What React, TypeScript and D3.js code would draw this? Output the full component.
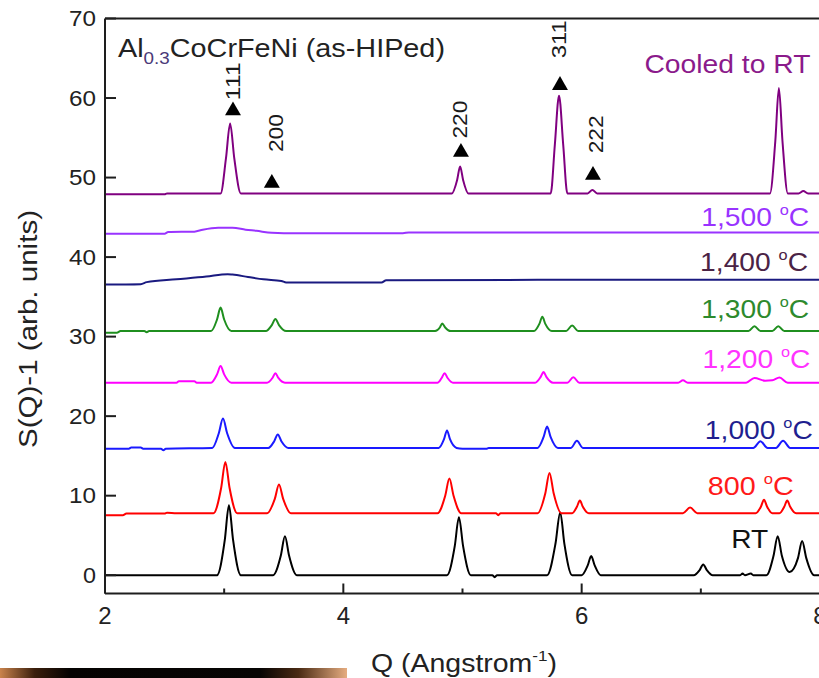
import React from "react";
import * as d3 from "d3";

type Pt = [number, number];

// ---- data (Q in 1/Angstrom, S(Q)-1 with vertical offsets as plotted) ----
const rtData: Pt[] = [
  [2.0, 0], [2.94, 0], [3.005, 4.4], [3.04, 8.8], [3.075, 4.4], [3.14, 0],
  [3.41, 0], [3.475, 2.45], [3.51, 4.9], [3.545, 2.45], [3.61, 0],
  [4.87, 0], [4.935, 3.65], [4.97, 7.3], [5.005, 3.65], [5.07, 0],
  [5.25, 0], [5.27, -0.25], [5.29, 0],
  [5.71, 0], [5.78, 3.95], [5.82, 7.9], [5.855, 3.95], [5.92, 0],
  [6.0, 0], [6.05, 1.2], [6.08, 2.4], [6.11, 1.2], [6.16, 0],
  [6.94, 0], [6.99, 0.65], [7.02, 1.35], [7.05, 0.65], [7.1, 0],
  [7.33, 0], [7.35, 0.2], [7.37, 0], [7.42, 0.2], [7.44, 0],
  [7.55, 0], [7.61, 2.45], [7.645, 4.9], [7.68, 2.45], [7.745, 0.4],
  [7.815, 2.15], [7.85, 4.3], [7.885, 2.15], [7.95, 0], [8.05, 0],
];

const t800Data: Pt[] = [
  [2.0, 7.55], [2.15, 7.55], [2.18, 7.75], [2.5, 7.75], [2.52, 7.85], [2.6, 7.8],
  [2.91, 7.8], [2.975, 11.0], [3.01, 14.25], [3.045, 11.0], [3.11, 7.8],
  [3.36, 7.8], [3.425, 9.6], [3.46, 11.4], [3.495, 9.6], [3.56, 7.8],
  [4.79, 7.8], [4.855, 10.0], [4.89, 12.15], [4.925, 10.0], [4.99, 7.8],
  [5.28, 7.8], [5.3, 7.55], [5.32, 7.8],
  [5.63, 7.8], [5.695, 10.3], [5.73, 12.86], [5.765, 10.3], [5.83, 7.8],
  [5.92, 7.8], [5.96, 8.6], [5.985, 9.4], [6.01, 8.6], [6.06, 7.8],
  [6.85, 7.8], [6.91, 8.5], [6.97, 7.8],
  [7.46, 7.8], [7.505, 8.65], [7.53, 9.5], [7.555, 8.65], [7.6, 7.8],
  [7.66, 7.8], [7.7, 8.6], [7.725, 9.4], [7.75, 8.6], [7.8, 7.8], [8.05, 7.8],
];

const t1000Data: Pt[] = [
  [2.0, 15.9], [2.2, 15.9], [2.22, 16.05], [2.3, 16.05], [2.32, 15.9], [2.47, 15.9], [2.49, 15.7], [2.51, 15.9],
  [2.9, 16.0], [2.955, 17.85], [2.99, 19.7], [3.025, 17.85], [3.09, 16.0],
  [3.37, 16.0], [3.42, 16.85], [3.45, 17.7], [3.48, 16.85], [3.54, 16.0],
  [4.8, 16.0], [4.845, 17.1], [4.87, 18.2], [4.895, 17.1], [4.95, 16.0],
  [5.0, 15.9], [5.2, 15.9], [5.22, 16.0], [5.63, 16.0], [5.68, 17.35], [5.71, 18.7], [5.74, 17.35], [5.8, 16.0],
  [5.91, 16.0], [5.96, 16.9], [6.01, 16.0],
  [7.44, 16.0], [7.5, 16.85], [7.56, 16.0],
  [7.63, 16.0], [7.69, 16.9], [7.75, 16.0], [8.05, 16.0],
];

const t1200Data: Pt[] = [
  [2.0, 24.2], [2.6, 24.2], [2.62, 24.4], [2.75, 24.4], [2.77, 24.2],
  [2.89, 24.2], [2.94, 25.25], [2.97, 26.3], [3.0, 25.25], [3.06, 24.2],
  [3.36, 24.2], [3.405, 24.8], [3.43, 25.4], [3.455, 24.8], [3.51, 24.2],
  [4.79, 24.2], [4.825, 24.8], [4.85, 25.4], [4.875, 24.8], [4.92, 24.2],
  [5.61, 24.2], [5.655, 24.9], [5.68, 25.55], [5.705, 24.9], [5.76, 24.2],
  [5.88, 24.2], [5.93, 24.9], [5.98, 24.2],
  [6.81, 24.2], [6.85, 24.5], [6.89, 24.2],
  [7.38, 24.2], [7.45, 24.8], [7.54, 24.45], [7.6, 24.5], [7.66, 24.85], [7.73, 24.2], [8.05, 24.2],
];

const t1300Data: Pt[] = [
  [2.0, 30.5], [2.1, 30.5], [2.13, 30.7], [2.33, 30.7], [2.35, 30.55], [2.37, 30.7],
  [2.89, 30.7], [2.94, 32.15], [2.97, 33.65], [3.0, 32.15], [3.06, 30.7],
  [3.35, 30.7], [3.4, 31.45], [3.43, 32.2], [3.46, 31.45], [3.52, 30.7],
  [4.77, 30.7], [4.81, 31.15], [4.83, 31.65], [4.855, 31.15], [4.9, 30.7],
  [5.6, 30.7], [5.645, 31.6], [5.67, 32.5], [5.695, 31.6], [5.75, 30.7],
  [5.87, 30.7], [5.92, 31.4], [5.97, 30.7],
  [7.4, 30.7], [7.45, 31.3], [7.5, 30.7],
  [7.6, 30.7], [7.65, 31.3], [7.7, 30.7], [8.05, 30.7],
];

const t1400Data: Pt[] = [
  [2.0, 36.55], [2.3, 36.6], [2.35, 36.85], [2.6, 37.2], [2.85, 37.55], [3.03, 37.85],
  [3.07, 37.8], [3.2, 37.5], [3.33, 37.2], [3.48, 37.0], [3.52, 36.8], [4.32, 36.8],
  [4.36, 37.1], [6.5, 37.15], [8.05, 37.15],
];

const t1500Data: Pt[] = [
  [2.0, 42.95], [2.5, 42.95], [2.53, 43.15], [2.75, 43.2], [2.82, 43.45], [2.95, 43.7],
  [3.07, 43.7], [3.18, 43.45], [3.27, 43.3], [3.4, 43.05], [3.5, 43.0], [4.5, 43.0],
  [4.55, 43.1], [8.05, 43.1],
];

const cooledData: Pt[] = [
  [2.0, 47.9], [2.5, 47.9], [2.52, 48.0],
  [2.97, 48.0], [3.015, 52.4], [3.05, 56.8], [3.085, 52.4], [3.14, 48.0],
  [4.91, 48.0], [4.955, 49.7], [4.98, 51.4], [5.005, 49.7], [5.05, 48.0],
  [5.74, 48.0], [5.775, 54.15], [5.81, 60.3], [5.845, 54.15], [5.88, 48.0],
  [6.05, 48.0], [6.09, 48.45], [6.13, 48.0],
  [7.58, 48.0], [7.625, 54.6], [7.655, 61.25], [7.685, 54.6], [7.73, 48.0],
  [7.82, 48.0], [7.86, 48.3], [7.9, 48.0], [8.05, 48.0],
];

const seriesNames = ["RT", "800", "1000", "1200", "1300", "1400", "1500", "Cooled"];
const seriesData: Pt[][] = [rtData, t800Data, t1000Data, t1200Data, t1300Data, t1400Data, t1500Data, cooledData];
const seriesColors = ["#000000", "#ff0000", "#1a1aff", "#ff00ff", "#1f8f1f", "#1a1a80", "#9933ff", "#800080"];

// right-hand labels: text, right-end Q, baseline value
const labelTexts = ["RT", "800", "1,000", "1,200", "1,300", "1,400", "1,500", "Cooled to RT"];
const labelQ = [7.565, 7.78, 7.94, 7.92, 7.91, 7.9, 7.91, 7.92];
const labelV = [3.4, 10.1, 17.1, 26.0, 32.4, 38.2, 43.9, 63.2];
const labelColors = ["#111111", "#ff1a1a", "#1f1f8f", "#ff33ff", "#2d8a2d", "#4b2345", "#9933ff", "#8b1a8b"];

// hkl reflections: label, triangle Q, triangle value, label Q, label value
const hklLabels = ["111", "200", "220", "311", "222"];
const hklQ = [3.074, 3.40, 4.987, 5.818, 6.095];
const hklV = [58.4, 49.3, 53.2, 61.6, 50.3];
const hklTextQ = [3.133, 3.494, 5.038, 5.868, 6.179];
const hklTextV = [59.7, 53.2, 54.9, 65.0, 53.05];

const xTicks = [2, 4, 6, 8];
const xMinorTicks = [3, 5, 7];
const yTicks = [0, 10, 20, 30, 40, 50, 60, 70];

export default function App() {
  const W = 819, H = 678;
  const x = d3.scaleLinear().domain([2, 8]).range([105, 820]);
  const y = d3.scaleLinear().domain([-2.3, 70]).range([593.5, 18.5]);
  const line = d3
    .line<Pt>()
    .x((d) => x(d[0]))
    .y((d) => y(d[1]))
    .curve(d3.curveMonotoneX);
  const tri = d3.symbol().type(d3.symbolTriangle).size(110)();
  const font = "'Liberation Sans', Arial, sans-serif";
  const axisColor = "#1e1e1e";

  return (
    <svg width={W} height={H} style={{ position: "absolute", left: 0, top: 0, background: "#fff" }} fontFamily={font}>
      <defs>
        <clipPath id="plot">
          <rect x={105} y={18.5} width={715} height={575} />
        </clipPath>
        <linearGradient id="blob" x1="0" x2="1" y1="0" y2="0">
          <stop offset="0" stopColor="#c9834c" />
          <stop offset="0.1" stopColor="#3a1e0c" />
          <stop offset="0.2" stopColor="#050302" />
          <stop offset="0.75" stopColor="#070504" />
          <stop offset="0.86" stopColor="#4a2a14" />
          <stop offset="1" stopColor="#e6ad80" />
        </linearGradient>
      </defs>

      {/* series */}
      <g clipPath="url(#plot)">
        {seriesData.map((d, i) => (
          <path key={seriesNames[i]} d={line(d) || ""} fill="none" stroke={seriesColors[i]} strokeWidth={2} strokeLinejoin="round" />
        ))}
      </g>

      {/* frame */}
      <line x1={x(2)} x2={x(2)} y1={y(70)} y2={y(-2.3)} stroke={axisColor} strokeWidth={2} />
      <line x1={x(2)} x2={W} y1={y(-2.3)} y2={y(-2.3)} stroke={axisColor} strokeWidth={2} />
      <line x1={x(2)} x2={W} y1={y(70)} y2={y(70)} stroke={axisColor} strokeWidth={2} />

      {/* y ticks */}
      {yTicks.map((t) => (
        <g key={"y" + t}>
          <line x1={x(2)} x2={x(2) + 11} y1={y(t)} y2={y(t)} stroke={axisColor} strokeWidth={2} />
          <text x={96} y={y(t)} dy="0.35em" textAnchor="end" fontSize={22} fill="#222"
            textLength={t === 0 ? 13 : 27} lengthAdjust="spacingAndGlyphs">
            {t}
          </text>
        </g>
      ))}
      {/* x ticks */}
      {xTicks.map((t) => (
        <g key={"x" + t}>
          <line x1={x(t)} x2={x(t)} y1={y(-2.3)} y2={y(-2.3) - 10} stroke={axisColor} strokeWidth={2} />
          <text x={x(t)} y={624} textAnchor="middle" fontSize={24} fill="#222">
            {t}
          </text>
        </g>
      ))}
      {xMinorTicks.map((t) => (
        <line key={"xm" + t} x1={x(t)} x2={x(t)} y1={y(-2.3)} y2={y(-2.3) - 5} stroke={axisColor} strokeWidth={2} />
      ))}

      {/* axis titles */}
      <text x={371} y={672} fontSize={25} fill="#222" textLength={186} lengthAdjust="spacingAndGlyphs">
        Q (Angstrom
        <tspan fontSize={15} dy={-11}>-1</tspan>
        <tspan dy={11}>)</tspan>
      </text>
      <text transform="translate(37,329) rotate(-90)" textAnchor="middle" fontSize={25} fill="#222"
        textLength={238} lengthAdjust="spacingAndGlyphs">
        S(Q)-1 (arb. units)
      </text>

      {/* composition title */}
      <text x={118} y={57} fontSize={26} fill="#222" textLength={327} lengthAdjust="spacingAndGlyphs">
        Al
        <tspan fontSize={17} dy={7} fill="#4a3a78">0.3</tspan>
        <tspan dy={-7}>CoCrFeNi (as-HIPed)</tspan>
      </text>

      {/* hkl markers */}
      {hklLabels.map((l, i) => (
        <g key={l}>
          <path d={tri || ""} transform={`translate(${x(hklQ[i])},${y(hklV[i])})`} fill="#000" />
          <text transform={`translate(${x(hklTextQ[i])},${y(hklTextV[i])}) rotate(-90)`} fontSize={21} fill="#1a1a1a"
            textLength={38} lengthAdjust="spacingAndGlyphs">
            {l}
          </text>
        </g>
      ))}

      {/* series labels */}
      {labelTexts.map((t, i) => {
        const isTemp = i > 0 && i < 7;
        const len = i === 0 ? 37 : i === 1 ? 86 : i === 7 ? 166 : 108;
        return (
          <text key={t} x={x(labelQ[i])} y={y(labelV[i])} textAnchor="end" fontSize={26} fill={labelColors[i]}
            textLength={len} lengthAdjust="spacingAndGlyphs">
            {t}
            {isTemp ? (
              <>
                <tspan> </tspan>
                <tspan fontSize={15} dy={-11}>o</tspan>
                <tspan dy={11}>C</tspan>
              </>
            ) : null}
          </text>
        );
      })}

      {/* dark photo fragment at bottom-left */}
      <rect x={0} y={668} width={347} height={10} fill="url(#blob)" />
    </svg>
  );
}
